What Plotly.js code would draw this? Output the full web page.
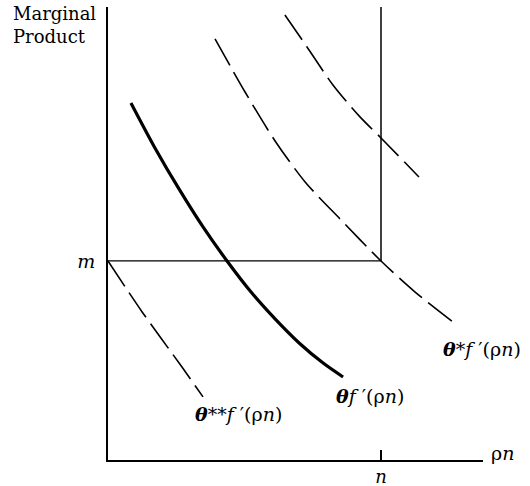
<!DOCTYPE html>
<html>
<head>
<meta charset="utf-8">
<script src="https://cdn.plot.ly/plotly-3.0.1.min.js"></script>
<style>html,body{margin:0;padding:0;background:#fff;}#chart{width:530px;height:486px;}</style>
</head>
<body>
<div id="chart"></div>
<script>
// Values in units where n = 1 (x) and m = 1 (y)
const nValue = 1;
const mValue = 1;

const thetaX = [0.084, 0.172, 0.260, 0.348, 0.436, 0.524, 0.612, 0.700, 0.788, 0.861];
const thetaY = [1.794, 1.568, 1.362, 1.171, 1.000, 0.844, 0.709, 0.588, 0.487, 0.417];

const thetaStarX = [0.392, 0.502, 0.612, 0.722, 0.850, 1.000, 1.125, 1.264];
const thetaStarY = [2.116, 1.849, 1.603, 1.397, 1.211, 1.000, 0.844, 0.693];

const thetaUpperX = [0.648, 0.729, 0.824, 0.923, 1.000, 1.139];
const thetaUpperY = [2.236, 2.075, 1.884, 1.724, 1.618, 1.422];

const thetaStar2X = [0.000, 0.125, 0.271, 0.348];
const thetaStar2Y = [1.000, 0.744, 0.467, 0.317];

const xTickVals = [nValue];
const xTickText = ['<i>n</i>'];
const yTickVals = [mValue];
const yTickText = ['<i>m</i>'];

const yTop = 2.276;
const xMax = 1.3736;

const serif = 'DejaVu Serif, Liberation Serif, serif';
const dashed = {color: '#000', width: 1.6, dash: '30px,8px', shape: 'spline', smoothing: 0.8};

const traces = [
  {x: [0, nValue], y: [mValue, mValue], mode: 'lines', line: {color: '#000', width: 1.3}},
  {x: [nValue, nValue], y: [mValue, yTop], mode: 'lines', line: {color: '#000', width: 1.5}},
  {x: thetaX, y: thetaY, mode: 'lines', line: {color: '#000', width: 3.2, shape: 'spline', smoothing: 0.8}},
  {x: thetaStarX, y: thetaStarY, mode: 'lines', line: dashed},
  {x: thetaUpperX, y: thetaUpperY, mode: 'lines', line: dashed},
  {x: thetaStar2X, y: thetaStar2Y, mode: 'lines', line: dashed}
];

const lblFont = {family: serif, size: 19, color: '#000'};

const layout = {
  width: 530, height: 486,
  margin: {l: 108, r: 47, t: 7, b: 26},
  paper_bgcolor: '#fff', plot_bgcolor: '#fff',
  showlegend: false,
  font: {family: serif, color: '#000'},
  xaxis: {
    range: [0, xMax], showgrid: false, zeroline: false,
    showline: true, linecolor: '#000', linewidth: 1.8,
    tickvals: xTickVals, ticktext: xTickText,
    ticks: 'inside', ticklen: 10, tickwidth: 1.3, tickcolor: '#000',
    tickfont: {family: serif, size: 18, color: '#000'},
    ticklabelstandoff: 0, fixedrange: true
  },
  yaxis: {
    range: [0, yTop], showgrid: false, zeroline: false,
    showline: true, linecolor: '#000', linewidth: 1.8,
    tickvals: yTickVals, ticktext: yTickText,
    ticks: '', tickfont: {family: serif, size: 19, color: '#000'},
    ticklabelstandoff: 7, fixedrange: true
  },
  annotations: [
    {xref: 'paper', yref: 'paper', x: -0.259, y: 1, xanchor: 'left', yanchor: 'top', yshift: 6,
     text: 'Marginal<br>Product', align: 'left', showarrow: false, font: {family: serif, size: 18, color: '#000'}},
    {xref: 'paper', yref: 'paper', x: 1.016, y: 0.015, xanchor: 'left', yanchor: 'middle',
     text: 'ρ<i>n</i>', showarrow: false, font: lblFont},
    {xref: 'paper', yref: 'paper', x: 0.347, y: 0.102, xanchor: 'center', yanchor: 'middle',
     text: '<b><i>θ</i></b>**<i>f</i> ′(ρ<i>n</i>)', showarrow: false, font: lblFont},
    {xref: 'paper', yref: 'paper', x: 0.699, y: 0.141, xanchor: 'center', yanchor: 'middle',
     text: '<b><i>θ</i></b><i>f</i> ′(ρ<i>n</i>)', showarrow: false, font: lblFont},
    {xref: 'paper', yref: 'paper', x: 0.888, y: 0.245, xanchor: 'left', yanchor: 'middle',
     text: '<b><i>θ</i></b>*<i>f</i> ′(ρ<i>n</i>)', showarrow: false, font: lblFont}
  ]
};

Plotly.newPlot('chart', traces, layout, {staticPlot: true, displayModeBar: false});
</script>
</body>
</html>
